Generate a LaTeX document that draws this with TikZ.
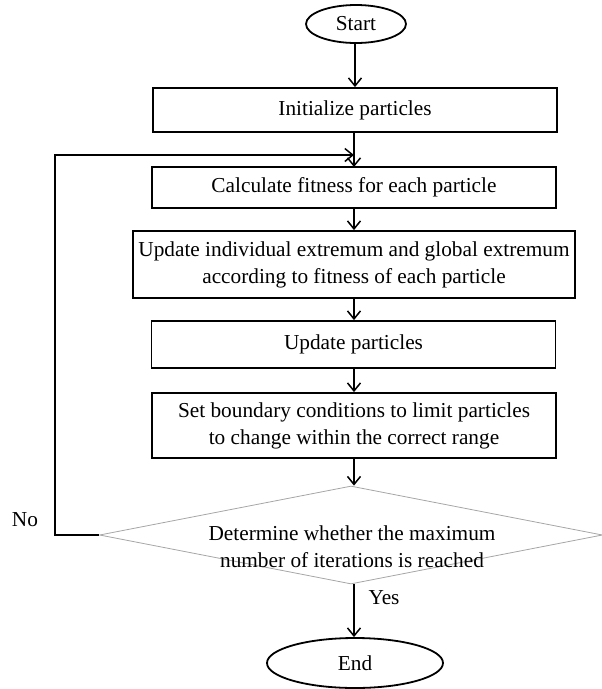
\documentclass[tikz,border=0pt]{standalone}
\usepackage{fontspec}
\setmainfont{Liberation Serif}
\usetikzlibrary{shapes.geometric,arrows.meta}
\begin{document}
\begin{tikzpicture}[x=1pt,y=-1pt,
  font=\fontsize{21.3}{27}\selectfont,
  stepbox/.style={draw,line width=1.8pt,rectangle,inner sep=0pt,align=center,minimum width=404pt},
  ovalbox/.style={draw,line width=1.8pt,ellipse,inner sep=0pt},
  arr/.style={line width=1.5pt,-{Straight Barb[length=8pt,width=13pt,line width=1.5pt]}},
  lnk/.style={line width=1.8pt}]
\useasboundingbox (0,0) rectangle (602,689);
\node[ovalbox,minimum width=100pt,minimum height=38pt] (start) at (356,24) {Start};
\node[stepbox,minimum height=44pt] (init) at (355,110) {Initialize particles};
\node[stepbox,minimum height=41pt] (calc) at (354,187.5) {Calculate fitness for each particle};
\node[stepbox,minimum width=442pt,minimum height=67pt] (upd) at (354,264.5) {Update individual extremum and global extremum\\according to fitness of each particle};
\node[stepbox,minimum height=47pt] (updp) at (353.5,344.5) {Update particles};
\node[stepbox,minimum height=65pt] (bnd) at (354,425.5) {Set boundary conditions to limit particles\\to change within the correct range};
\node[diamond,draw=gray!70,line width=0.8pt,minimum width=503pt,minimum height=98pt,inner sep=0pt] (dec) at (351,535) {};
\node[align=center,inner sep=0pt] (dectext) at (352,547) {Determine whether the maximum\\number of iterations is reached};
\node[ovalbox,minimum width=176pt,minimum height=50pt] (end) at (355,663) {End};
\node (no) at (25,520) {No};
\node (yes) at (384,598) {Yes};
\coordinate (lt) at (55,155);
\coordinate (lj) at (354,155);
\draw[arr] (start.south -| init.north) -- (init.north);
\draw[arr] (354,132) -- (354,167);
\draw[lnk] (dec.west) -- (dec.west -| lt) -- (lt) -- (290,155);
\draw[arr] (lt) -- (lj);
\draw[arr] (calc.south) -- (upd.north);
\draw[arr] (upd.south) -- (upd.south |- updp.north);
\draw[arr] (upd.south |- updp.south) -- (upd.south |- bnd.north);
\draw[arr] (bnd.south) -- (bnd.south |- dec.north);
\draw[arr] (bnd.south |- dec.south) -- (bnd.south |- end.north);
\end{tikzpicture}
\end{document}
